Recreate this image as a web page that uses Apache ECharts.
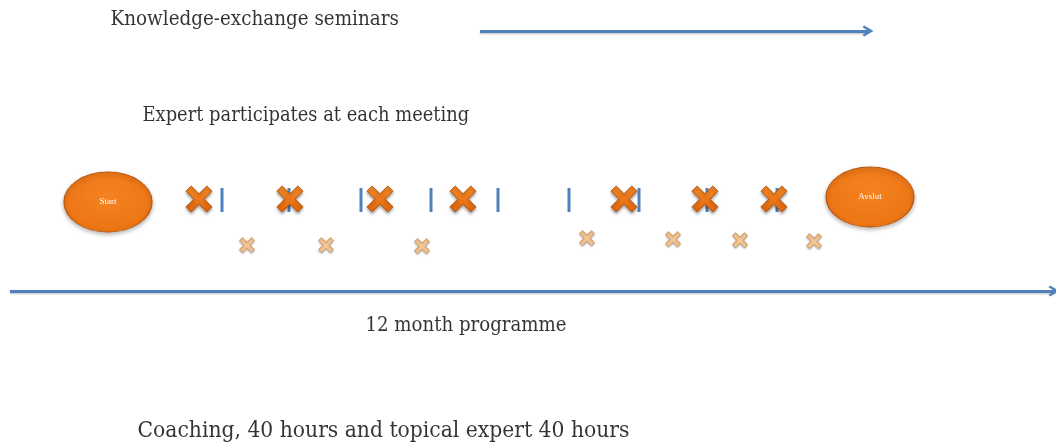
<!DOCTYPE html>
<html><head><meta charset="utf-8">
<script src="https://cdn.jsdelivr.net/npm/echarts@6/dist/echarts.min.js"></script>
<style>html,body{margin:0;padding:0;background:#fff}#c{width:1056px;height:445px}</style>
</head><body><div id="c"></div>
<script>
// timeline positions (horizontal units across the programme)
const milestones = [{name:'Start', x:108, y:202}, {name:'Avslut', x:870, y:197}];
const expertMeetings = [199, 290, 380, 463, 624, 705, 774];
const seminarTicks = [222, 289, 361, 431, 498, 569, 639, 707, 777];
const coachingSessions = [[247,245],[326,245],[422,246],[587,238],[673,239],[740,240],[814,241]];
const arrows = [{from:[480,31], to:[868,31]}, {from:[10,291], to:[1054,291]}];
const texts = [
  {t:'Knowledge-exchange seminars', x:110, y:20, s:20.4},
  {t:'Expert participates at each meeting', x:142, y:116, s:19.9},
  {t:'12 month programme', x:365, y:326, s:20.2},
  {t:'Coaching, 40 hours and topical expert 40 hours', x:137, y:431, s:22.6}
];

const X = 'path://M20,0 L50,30 L80,0 L100,20 L70,50 L100,80 L80,100 L50,70 L20,100 L0,80 L30,50 L0,20 Z';
const CHEV = 'path://M0,8.5 L5,0 L10,8.5 L8.3,10 L5,4.6 L1.7,10 Z';
const chart = echarts.init(document.getElementById('c'));
chart.setOption({
  animation:false,
  grid:{left:0,right:0,top:0,bottom:0},
  xAxis:{type:'value',min:0,max:1056,show:false},
  yAxis:{type:'value',min:0,max:445,inverse:true,show:false},
  series:[
    {type:'lines',coordinateSystem:'cartesian2d',polyline:false,
     symbol:['none',CHEV],symbolSize:[18,11],
     lineStyle:{color:'#4F81BD',width:3,opacity:1,shadowColor:'rgba(0,0,0,0.25)',shadowBlur:2,shadowOffsetY:1},
     data:arrows.map(a=>({coords:[a.from,a.to]})),z:1},
    {type:'scatter',symbol:'rect',symbolSize:[3,24],
     itemStyle:{color:'#4F81BD',opacity:1},
     data:seminarTicks.map(x=>[x,200]),z:2},
    {type:'scatter',symbol:X,symbolSize:26,
     itemStyle:{opacity:1,color:new echarts.graphic.LinearGradient(0,0,0,1,[{offset:0,color:'#F68B2A'},{offset:1,color:'#E0650A'}]),
       borderColor:'#B4560E',borderWidth:1,shadowColor:'rgba(0,0,0,0.35)',shadowBlur:3,shadowOffsetY:2},
     data:expertMeetings.map(x=>[x,199]),z:3},
    {type:'scatter',symbol:X,symbolSize:15,
     itemStyle:{opacity:1,color:'#F5C796',borderColor:'#D9A46E',borderWidth:1,shadowColor:'rgba(0,0,0,0.3)',shadowBlur:2,shadowOffsetY:1},
     data:coachingSessions,z:3},
    {type:'scatter',symbol:'circle',symbolSize:[88,60],
     itemStyle:{opacity:1,color:new echarts.graphic.RadialGradient(0.5,0.4,0.7,[{offset:0,color:'#F58220'},{offset:0.8,color:'#EC7514'},{offset:1,color:'#D0620E'}]),
       borderColor:'#C0580F',borderWidth:1,shadowColor:'rgba(0,0,0,0.3)',shadowBlur:4,shadowOffsetY:2},
     label:{show:true,position:'inside',formatter:p=>p.name,color:'#fff',fontFamily:'Liberation Serif',fontSize:9},
     data:milestones.map(m=>({name:m.name,value:[m.x,m.y]})),z:4},
    {type:'scatter',symbol:'circle',symbolSize:1,silent:true,
     itemStyle:{color:'rgba(0,0,0,0)'},
     label:{show:true,position:'right',distance:0,formatter:p=>p.name,color:'#000',fontFamily:'DejaVu Serif Condensed, DejaVu Serif'},
     data:texts.map(d=>({name:d.t,value:[d.x,d.y],label:{fontSize:d.s}})),z:5}
  ]
});
</script></body></html>
